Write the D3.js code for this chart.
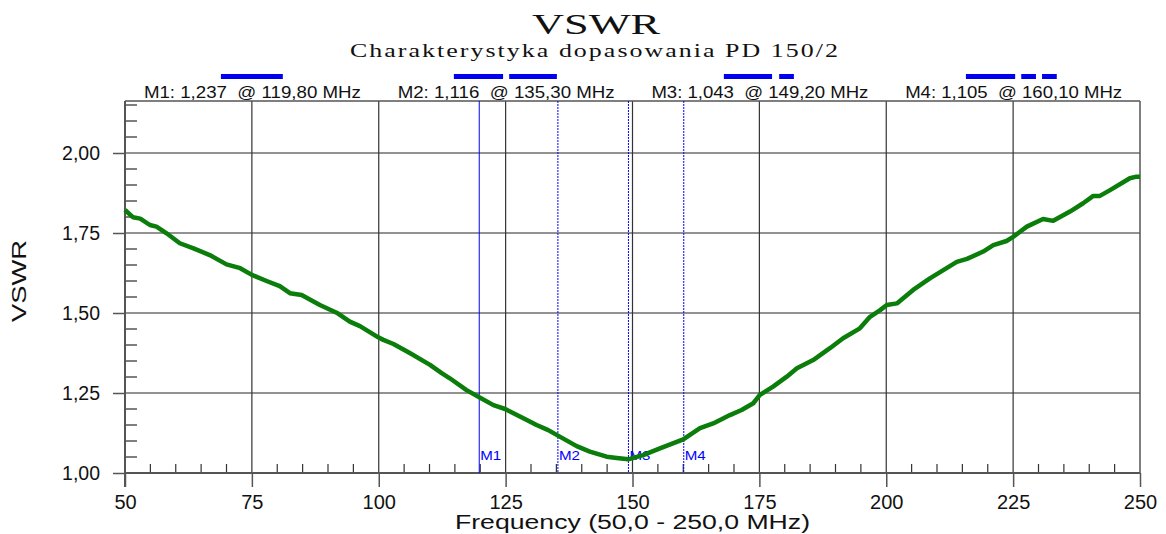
<!DOCTYPE html>
<html>
<head>
<meta charset="utf-8">
<script src="https://cdn.jsdelivr.net/npm/d3@7"></script>
<style>
  body { margin: 0; background: #fff; }
  svg { display: block; }
  text { font-family: "Liberation Sans", Arial, sans-serif; }
</style>
</head>
<body>
<svg id="chart" width="1166" height="534"></svg>
<script>
// measured sweep, MHz
const freqs = [
  50, 51.6, 53.0, 54.9, 56.2, 58.2, 60.8, 63.5, 66.7, 70.0, 72.7, 75.0, 77.9,
  80.5, 82.5, 84.8, 88.4, 91.7, 94.3, 96.3, 99.9, 100.9, 102.9, 106.2, 110.1,
  112.4, 114.0, 117.3, 119.8, 122.6, 124.9, 128.5, 131.1, 133.4, 135.4, 139.0,
  141.6, 144.9, 146.9, 149.2, 149.5, 152.1, 155.4, 160.0, 163.3, 165.9, 169.2,
  171.5, 173.8, 175.1, 177.7, 180.4, 182.4, 185.6, 188.9, 191.5, 194.8, 196.8,
  198.8, 200.1, 202.1, 205.3, 208.6, 213.9, 215.9, 219.1, 221.1, 223.7, 225.0,
  227.7, 230.9, 232.9, 236.2, 238.8, 240.8, 242.1, 244.1, 248.0, 249.3, 250
];
const vswr = [
  1.822, 1.799, 1.795, 1.775, 1.770, 1.749, 1.718, 1.702, 1.681, 1.652, 1.640,
  1.619, 1.600, 1.584, 1.562, 1.556, 1.525, 1.501, 1.473, 1.459, 1.424, 1.416,
  1.403, 1.374, 1.338, 1.312, 1.296, 1.259, 1.237, 1.212, 1.200, 1.171, 1.150,
  1.134, 1.116, 1.084, 1.067, 1.051, 1.047, 1.043, 1.044, 1.056, 1.077, 1.105,
  1.140, 1.155, 1.181, 1.197, 1.218, 1.244, 1.270, 1.301, 1.327, 1.353, 1.390,
  1.421, 1.452, 1.488, 1.509, 1.525, 1.530, 1.572, 1.608, 1.660, 1.669, 1.692,
  1.712, 1.725, 1.738, 1.770, 1.794, 1.788, 1.817, 1.843, 1.866, 1.866, 1.884,
  1.921, 1.926, 1.926
];

const markerNames = ["M1", "M2", "M3", "M4"];
const markerFreqs = [119.8, 135.3, 149.2, 160.1];
const markerValues = ["1,237", "1,116", "1,043", "1,105"];
const markerFreqLabels = ["119,80", "135,30", "149,20", "160,10"];

// blue header bars (start/end in MHz)
const barSpans = [
  [68.9, 81.1], [114.8, 124.5], [125.7, 135.1], [168.0, 177.5],
  [178.9, 181.8], [215.7, 225.4], [226.6, 229.5], [230.7, 233.6]
];

const xMajor = [50, 75, 100, 125, 150, 175, 200, 225, 250];
const yMajor = [1.0, 1.25, 1.5, 1.75, 2.0];

const title = "VSWR";
const subtitle = "Charakterystyka dopasowania PD 150/2";
const xTitle = "Frequency (50,0 - 250,0 MHz)";
const yTitle = "VSWR";

const margin = { left: 125, top: 101, right: 26, bottom: 61 };
const width = 1166 - margin.left - margin.right;
const height = 534 - margin.top - margin.bottom;

const svg = d3.select("#chart");
const comma = (v, n) => v.toFixed(n).replace(".", ",");

const x = d3.scaleLinear().domain([50, 250]).range([0, width]);
const y = d3.scaleLinear().domain([1, 2.1625]).range([height, 0]);

const g = svg
  .append("g")
  .attr("transform", `translate(${margin.left},${margin.top})`);

// grid
g.append("g")
  .selectAll("line")
  .data(yMajor.slice(1))
  .join("line")
  .attr("x1", 0)
  .attr("x2", width)
  .attr("y1", (d) => y(d))
  .attr("y2", (d) => y(d))
  .attr("stroke", "#6e6e6e")
  .attr("stroke-width", 1.5);

g.append("g")
  .selectAll("line")
  .data(xMajor.slice(1, -1))
  .join("line")
  .attr("x1", (d) => x(d))
  .attr("x2", (d) => x(d))
  .attr("y1", 0)
  .attr("y2", height)
  .attr("stroke", "#333")
  .attr("stroke-width", 1.2);

// minor ticks
g.append("g")
  .selectAll("line")
  .data(d3.range(1.05, 2.16, 0.05).filter((v) => Math.abs(v * 4 - Math.round(v * 4)) > 0.01))
  .join("line")
  .attr("x1", 0)
  .attr("x2", 12)
  .attr("y1", (d) => y(d))
  .attr("y2", (d) => y(d))
  .attr("stroke", "#555")
  .attr("stroke-width", 1.5);

g.append("g")
  .selectAll("line")
  .data(d3.range(55, 250, 5).filter((v) => v % 25 !== 0))
  .join("line")
  .attr("x1", (d) => x(d))
  .attr("x2", (d) => x(d))
  .attr("y1", height)
  .attr("y2", height - 9)
  .attr("stroke", "#333")
  .attr("stroke-width", 1.2);

// axes
const xAxis = g
  .append("g")
  .attr("transform", `translate(0,${height})`)
  .call(d3.axisBottom(x).tickValues(xMajor).tickSize(14).tickPadding(8));
xAxis.select(".domain").remove();
xAxis.selectAll(".tick line").attr("stroke", "#555").attr("stroke-width", 1.5);
xAxis.selectAll(".tick text")
  .attr("font-size", 20)
  .attr("fill", "#111")
  .style("font-family", "Liberation Sans, Arial, sans-serif");

const yAxis = g
  .append("g")
  .call(d3.axisLeft(y).tickValues(yMajor).tickSize(12).tickPadding(13).tickFormat((d) => comma(d, 2)));
yAxis.select(".domain").remove();
yAxis.selectAll(".tick line").attr("stroke", "#555").attr("stroke-width", 1.5);
yAxis.selectAll(".tick text")
  .attr("font-size", 19.5)
  .attr("fill", "#111")
  .style("font-family", "Liberation Sans, Arial, sans-serif");

// frame
g.append("line")
  .attr("x1", 0).attr("x2", width)
  .attr("y1", height).attr("y2", height)
  .attr("stroke", "#555").attr("stroke-width", 2);
g.append("line")
  .attr("x1", 0).attr("x2", 0)
  .attr("y1", 0).attr("y2", height + 14)
  .attr("stroke", "#555").attr("stroke-width", 2);
g.append("line")
  .attr("x1", 0).attr("x2", width)
  .attr("y1", 0).attr("y2", 0)
  .attr("stroke", "#555").attr("stroke-width", 1.5);
g.append("line")
  .attr("x1", width).attr("x2", width)
  .attr("y1", 0).attr("y2", height)
  .attr("stroke", "#555").attr("stroke-width", 1.5);

// marker lines
const markers = g
  .append("g")
  .selectAll("g")
  .data(markerNames)
  .join("g")
  .attr("transform", (d, i) => `translate(${x(markerFreqs[i])},0)`);

markers
  .append("line")
  .attr("y1", 0)
  .attr("y2", height)
  .attr("stroke", "#0000ff")
  .attr("stroke-width", 1)
  .attr("stroke-dasharray", (d, i) => (i === 0 ? null : "2,1"));

markers
  .append("text")
  .attr("x", 1)
  .attr("y", height - 13)
  .attr("font-size", 13)
  .attr("textLength", 21)
  .attr("lengthAdjust", "spacingAndGlyphs")
  .attr("fill", "#0000ff")
  .text((d) => d);

// curve
const line = d3
  .line()
  .x((d, i) => x(freqs[i]))
  .y((d) => y(d));

g.append("path")
  .datum(vswr)
  .attr("fill", "none")
  .attr("stroke", "#0a7d0a")
  .attr("stroke-width", 4.5)
  .attr("stroke-linejoin", "round")
  .attr("d", line);

// header
const quarter = width / 4;
g.append("g")
  .selectAll("text")
  .data(markerNames)
  .join("text")
  .attr("x", (d, i) => quarter * (i + 0.5) - 108)
  .attr("y", -3)
  .attr("font-size", 16.5)
  .attr("textLength", 217)
  .attr("lengthAdjust", "spacingAndGlyphs")
  .attr("fill", "#111")
  .text((d, i) => `${d}: ${markerValues[i]}  @ ${markerFreqLabels[i]} MHz`)
  .style("white-space", "pre");

g.append("g")
  .selectAll("rect")
  .data(barSpans)
  .join("rect")
  .attr("x", (d) => x(d[0]))
  .attr("width", (d) => x(d[1]) - x(d[0]))
  .attr("y", -27)
  .attr("height", 5)
  .attr("fill", "#0000ee");

// titles
svg.append("text")
  .attr("x", 532)
  .attr("y", 34)
  .attr("textLength", 128)
  .attr("lengthAdjust", "spacingAndGlyphs")
  .attr("font-size", 30)
  .style("font-family", "Liberation Serif, Times New Roman, serif")
  .attr("fill", "#111")
  .text(title);

svg.append("text")
  .attr("x", 350)
  .attr("y", 57)
  .attr("textLength", 490)
  .attr("lengthAdjust", "spacingAndGlyphs")
  .attr("letter-spacing", 1.5)
  .attr("font-size", 19)
  .style("font-family", "Liberation Serif, Times New Roman, serif")
  .attr("fill", "#111")
  .text(subtitle);

svg.append("text")
  .attr("x", 455)
  .attr("y", 529)
  .attr("textLength", 355)
  .attr("lengthAdjust", "spacingAndGlyphs")
  .attr("font-size", 20)
  .attr("fill", "#111")
  .text(xTitle);

svg.append("text")
  .attr("transform", `translate(26,322) rotate(-90)`)
  .attr("textLength", 82)
  .attr("lengthAdjust", "spacingAndGlyphs")
  .attr("font-size", 19.5)
  .attr("fill", "#111")
  .text(yTitle);
</script>
</body>
</html>
